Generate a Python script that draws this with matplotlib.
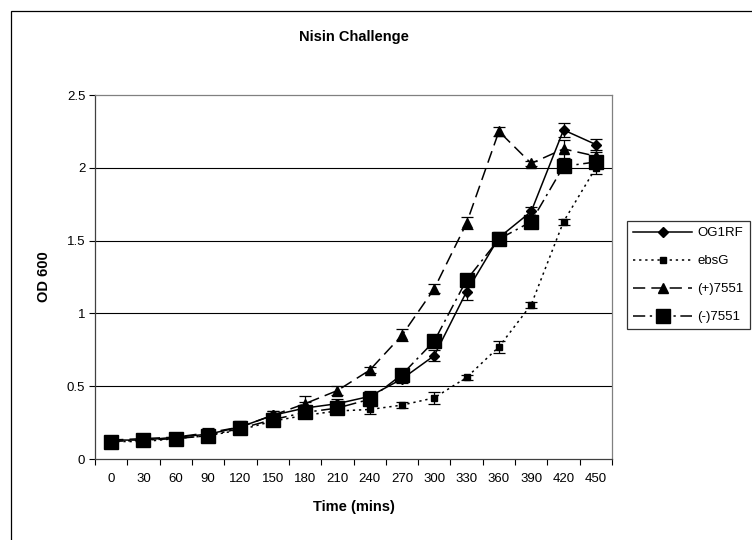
import numpy as np
import matplotlib
matplotlib.use("Agg")
import matplotlib.pyplot as plt
from matplotlib.patches import Rectangle

plt.rcParams['font.family'] = ['Liberation Sans', 'DejaVu Sans']

times = [0, 30, 60, 90, 120, 150, 180, 210, 240, 270, 300, 330, 360, 390, 420, 450]

og1rf = [0.13, 0.13, 0.15, 0.17, 0.22, 0.30, 0.35, 0.38, 0.43, 0.55, 0.71, 1.15, 1.52, 1.70, 2.26, 2.16]
og1rf_err = [0.03, 0.03, 0.03, 0.03, 0.04, 0.03, 0.04, 0.03, 0.04, 0.03, 0.04, 0.06, 0.04, 0.03, 0.05, 0.04]

ebsg = [0.12, 0.12, 0.14, 0.16, 0.20, 0.26, 0.30, 0.33, 0.34, 0.37, 0.42, 0.56, 0.77, 1.06, 1.63, 2.00]
ebsg_err = [0.02, 0.02, 0.02, 0.02, 0.02, 0.02, 0.02, 0.02, 0.03, 0.02, 0.04, 0.02, 0.04, 0.02, 0.02, 0.04]

plus7551 = [0.13, 0.14, 0.15, 0.18, 0.22, 0.30, 0.38, 0.47, 0.61, 0.85, 1.17, 1.62, 2.25, 2.03, 2.13, 2.08]
plus7551_err = [0.03, 0.03, 0.03, 0.03, 0.03, 0.03, 0.05, 0.03, 0.02, 0.04, 0.03, 0.04, 0.03, 0.02, 0.06, 0.03]

minus7551 = [0.12, 0.13, 0.14, 0.16, 0.21, 0.27, 0.32, 0.35, 0.41, 0.58, 0.81, 1.23, 1.51, 1.63, 2.01, 2.04]
minus7551_err = [0.03, 0.03, 0.02, 0.03, 0.03, 0.03, 0.03, 0.03, 0.03, 0.03, 0.04, 0.03, 0.04, 0.03, 0.03, 0.03]

W, H = 752, 540
fig = plt.figure(figsize=(W / 100, H / 100), dpi=100)
# outer chart frame (runs off the right/bottom edge)
fig.patches.append(Rectangle((11 / W, -0.1), 1.2, 1 - 11 / H + 0.1, transform=fig.transFigure,
                             fill=False, edgecolor='black', linewidth=0.9))

left, right, top, bottom = 95, 612, 95, 459
ax = fig.add_axes([left / W, 1 - bottom / H, (right - left) / W, (bottom - top) / H])

x = np.arange(len(times))
series = [
    (og1rf, og1rf_err, 'OG1RF', '-', 'D', 5.5),
    (ebsg, ebsg_err, 'ebsG', (0, (1.5, 2.5)), 's', 5),
    (plus7551, plus7551_err, '(+)7551', (0, (8, 4)), '^', 6.5),
    (minus7551, minus7551_err, '(-)7551', (0, (8, 3, 1.5, 3)), 's', 9.5),
]
handles = []
for vals, err, name, ls, mk, ms in series:
    ax.errorbar(x, vals, yerr=err, fmt='none', ecolor='black', elinewidth=0.9, capsize=4, capthick=0.9, zorder=3)
    ln, = ax.plot(x, vals, color='black', linestyle=ls, linewidth=1.1, marker=mk, markersize=ms,
                  markerfacecolor='black', markeredgecolor='black', label=name, zorder=4)
    handles.append(ln)

ax.set_xlim(-0.5, len(times) - 0.5)
ax.set_ylim(0, 2.5)
ax.set_yticks([0, 0.5, 1, 1.5, 2, 2.5])
ax.set_yticklabels(['0', '0.5', '1', '1.5', '2', '2.5'])
ax.set_xticks(x)
ax.set_xticklabels([str(t) for t in times])
ax.set_xticks(np.arange(-0.5, len(times), 1), minor=True)
ax.tick_params(axis='x', which='major', length=0, pad=10, labelsize=9.5)
ax.tick_params(axis='x', which='minor', length=4, direction='out', width=0.8)
ax.tick_params(axis='y', length=4, direction='out', width=0.8, labelsize=9.5, pad=3)

for yv in [0.5, 1, 1.5, 2]:
    ax.axhline(yv, color='black', linewidth=0.8, zorder=1)
for s in ['top', 'right']:
    ax.spines[s].set_color('#808080')
    ax.spines[s].set_linewidth(0.9)
for s in ['left', 'bottom']:
    ax.spines[s].set_color('#404040')
    ax.spines[s].set_linewidth(0.9)

ax.set_xlabel('Time (mins)', fontsize=10.5, fontweight='bold', labelpad=11)
ax.set_ylabel('OD 600', fontsize=10.5, fontweight='bold', labelpad=11)
fig.text((left + right) / 2 / W, 1 - 37 / H, 'Nisin Challenge', ha='center', va='center',
         fontsize=10.5, fontweight='bold')

leg = fig.legend(handles=handles, loc='upper left', bbox_to_anchor=(627 / W, 1 - 221 / H),
                 fontsize=9.5, handlelength=4.5, labelspacing=1.2, frameon=True, fancybox=False,
                 borderpad=0.45, handletextpad=0.4, borderaxespad=0)
leg.get_frame().set_edgecolor('black')
leg.get_frame().set_linewidth(0.9)

fig.savefig('out.png', dpi=100)
